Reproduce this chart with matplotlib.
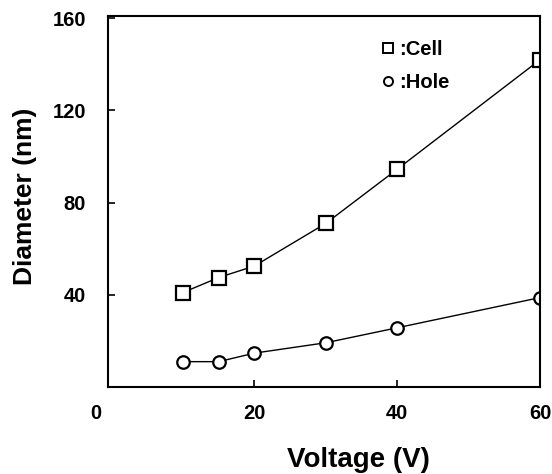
import matplotlib.pyplot as plt
from matplotlib.lines import Line2D

plt.rcParams['font.family'] = ['Liberation Sans', 'DejaVu Sans']

# 电压 (V) 与直径 (nm)
voltage = [10, 15, 20, 30, 40, 60]
cell_diameter = [41, 47.5, 52.5, 71, 94.5, 142]
hole_diameter = [11, 11, 14.7, 19.2, 25.7, 38.8]

fig = plt.figure(figsize=(5.52, 4.74), dpi=100)
ax = fig.add_axes([108 / 552, 1 - 387 / 474, 432 / 552, 371 / 474])

ax.plot(voltage, cell_diameter, color='black', lw=1.0, marker='s', ms=9.5,
        mfc='white', mec='black', mew=1.6)
ax.plot(voltage, hole_diameter, color='black', lw=1.0, marker='o', ms=9,
        mfc='white', mec='black', mew=1.6)

ax.set_xlim(-0.5, 60)
ax.set_ylim(0, 161)
ax.set_xticks([20, 40, 60])
ax.set_yticks([40, 80, 120, 160])
ax.tick_params(direction='in', length=5, width=1.2)
ax.tick_params(axis='x', pad=12)
ax.tick_params(axis='y', pad=16)
tick_font = dict(family='Liberation Sans', size=14.5, weight='bold')
for lab in ax.get_xticklabels() + ax.get_yticklabels():
    lab.set_fontproperties(tick_font)
for s in ax.spines.values():
    s.set_linewidth(1.5)

# 原点的 0
ax.text(-0.028, -0.046, '0', transform=ax.transAxes, ha='center', va='top',
        fontproperties=tick_font)

ax.set_xlabel('Voltage (V)', fontsize=20, fontweight='bold')
ax.xaxis.set_label_coords(0.58, -0.163)
ax.set_ylabel('Diameter (nm)', fontsize=19, fontweight='bold')
ax.yaxis.set_label_coords(-0.164, 0.515)

# 图例只画标记
handles = [
    Line2D([], [], ls='none', marker='s', ms=6.5, mfc='white', mec='black',
           mew=1.4, label=':Cell'),
    Line2D([], [], ls='none', marker='o', ms=6.5, mfc='white', mec='black',
           mew=1.4, label=':Hole'),
]
ax.legend(handles=handles, loc='upper left', bbox_to_anchor=(0.583, 0.985),
          frameon=False, handlelength=1.0, handletextpad=0.05,
          labelspacing=0.7,
          prop=dict(family='Liberation Sans', size=14.5, weight='bold'))

fig.savefig('out.png', dpi=100)
